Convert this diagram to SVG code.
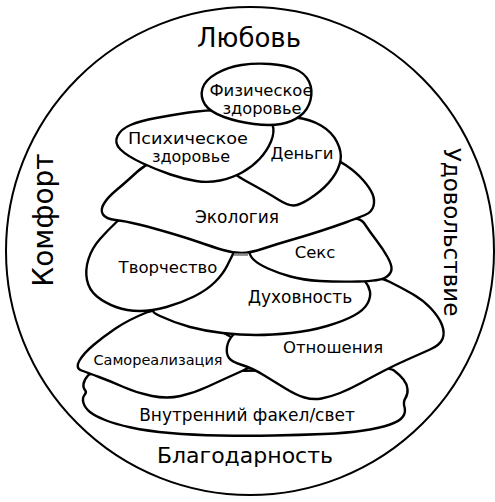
<svg xmlns="http://www.w3.org/2000/svg" width="495" height="502" viewBox="0 0 495 502">
<style>
.stone{fill:#fff;stroke:#000;stroke-width:2.4;stroke-linejoin:round}
.lbl{font-family:"DejaVu Sans","Liberation Sans",sans-serif;text-anchor:middle;fill:#000}
</style>
<rect width="495" height="502" fill="#fff"/>
<g id="frame">
<circle cx="250" cy="251" r="244" fill="#fff" stroke="#000" stroke-width="2"/>
<text class="lbl" x="249" y="47" font-size="26">Любовь</text>
<text class="lbl" x="245" y="463" font-size="22">Благодарность</text>
<text class="lbl" font-size="28" transform="translate(53,220) rotate(-90)">Комфорт</text>
<text class="lbl" font-size="23" transform="translate(444,232) rotate(90)">Удовольствие</text>
</g>
<g id="node-svet">
<path class="stone" d="M225,371 Q150,372 121,371.5 Q92,371 88,375.5 Q84,380 83.5,384 Q83,388 85,390 Q87,392 84.5,395 Q82,398 83.5,403 Q85,408 90,412 Q95,416 105,420 Q115,424 131,427.5 Q147,431 170,433 Q193,435 220,435.5 Q247,436 273.5,435.5 Q300,435 323.5,434 Q347,433 363.5,430.5 Q380,428 390,424.5 Q400,421 403,416.5 Q406,412 404.5,407 Q403,402 405.5,398 Q408,394 407.5,389 Q407,384 403.5,379.5 Q400,375 394,370.5 Q388,366 344,368 Q300,370 225,371 Z"/>
<text class="lbl" x="247" y="421" font-size="17">Внутренний факел/свет</text>
</g>
<g id="node-samorealizatsiya">
<path class="stone" d="M202.5,322.5 Q165,305 146.5,312.5 Q128,320 115.5,328.5 Q103,337 93.5,345 Q84,353 79.5,360.5 Q75,368 81.5,370.5 Q88,373 99,377 Q110,381 123.5,387 Q137,393 152,396 Q167,399 180.5,396 Q194,393 208,386.5 Q222,380 242,371 Q262,362 251,351 Q240,340 202.5,322.5 Z"/>
<text class="lbl" x="158" y="365" font-size="14.5">Самореализация</text>
</g>
<g id="node-otnosheniya">
<path class="stone" d="M327.5,290 Q300,300 270,314 Q240,328 234,334 Q228,340 227,347 Q226,354 229,358 Q232,362 242,365 Q252,368 263.5,375 Q275,382 285.5,388.5 Q296,395 304.5,397.5 Q313,400 321.5,398.5 Q330,397 340,393 Q350,389 361,383 Q372,377 383.5,371 Q395,365 407.5,359.5 Q420,354 430,349.5 Q440,345 442.5,339 Q445,333 442,325 Q439,317 431,308.5 Q423,300 412.5,294 Q402,288 390,282 Q378,276 366.5,278 Q355,280 327.5,290 Z"/>
<text class="lbl" x="333" y="353" font-size="16.5">Отношения</text>
</g>
<g id="node-dukhovnost">
<path class="stone" d="M187.5,292.5 Q175,300 160,304.5 Q145,309 160,316 Q175,323 190,327 Q205,331 222.5,333 Q240,335 256,335 Q272,335 291,333 Q310,331 327,326 Q344,321 354,315.5 Q364,310 367.5,303.5 Q371,297 370,291.5 Q369,286 364.5,280.5 Q360,275 330,265 Q300,255 270.5,247.5 Q241,240 220.5,262.5 Q200,285 187.5,292.5 Z"/>
<text class="lbl" x="300" y="303" font-size="17">Духовность</text>
</g>
<g id="node-tvorchestvo">
<path class="stone" d="M152.5,222 Q125,214 116.5,222 Q108,230 100,239 Q92,248 88.5,259 Q85,270 87,280 Q89,290 97,296.5 Q105,303 116,307 Q127,311 139.5,311 Q152,311 166.5,307 Q181,303 194,296.5 Q207,290 215,282 Q223,274 227,266 Q231,258 233.5,253 Q236,248 208,239 Q180,230 152.5,222 Z"/>
<text class="lbl" x="168" y="273" font-size="16.5">Творчество</text>
</g>
<g id="node-seks">
<path class="stone" d="M275,238 Q250,246 249.5,250.5 Q249,255 253.5,259.5 Q258,264 268,268.5 Q278,273 290.5,276.5 Q303,280 320,281 Q337,282 358.5,281.5 Q380,281 385.5,277.5 Q391,274 391.5,269.5 Q392,265 387.5,257 Q383,249 376.5,240.5 Q370,232 364,223 Q358,214 329,222 Q300,230 275,238 Z"/>
<text class="lbl" x="315" y="258" font-size="16.5">Секс</text>
</g>
<g id="node-ekologiya">
<path class="stone" d="M175,155 Q150,160 137.5,171.5 Q125,183 116.5,190 Q108,197 104,203.5 Q100,210 103,214.5 Q106,219 115.5,220 Q125,221 139,224.5 Q153,228 170,233 Q187,238 200,242.5 Q213,247 223,250 Q233,253 241.5,253 Q250,253 263.5,248.5 Q277,244 291,240 Q305,236 319,231.5 Q333,227 345.5,222.5 Q358,218 365,215 Q372,212 373.5,206 Q375,200 372.5,194 Q370,188 363,180 Q356,172 345.5,165 Q335,158 317.5,154 Q300,150 250,150 Q200,150 175,155 Z"/>
<rect x="234" y="253.3" width="14" height="2.6" fill="#8c8c8c"/>
<text class="lbl" x="237" y="223" font-size="17">Экология</text>
</g>
<g id="node-dengi">
<path class="stone" d="M245,132.5 Q255,125 267.5,120.5 Q280,116 295,117.5 Q310,119 321,125.5 Q332,132 337,142 Q342,152 340.5,160.5 Q339,169 332.5,178 Q326,187 315,195 Q304,203 297,205 Q290,207 279,200 Q268,193 245,180.5 Q222,168 228.5,154 Q235,140 245,132.5 Z"/>
<text class="lbl" x="302" y="159" font-size="16.5">Деньги</text>
</g>
<g id="node-psikhicheskoe">
<path class="stone" d="M120.5,149.5 Q114,143 117.5,136 Q121,129 130.5,125 Q140,121 156,118 Q172,115 188.5,112.5 Q205,110 225,110 Q245,110 257.5,113.5 Q270,117 272.5,124.5 Q275,132 271,141.5 Q267,151 259.5,159 Q252,167 242,172.5 Q232,178 220,180.5 Q208,183 196,181 Q184,179 170.5,174.5 Q157,170 142,163 Q127,156 120.5,149.5 Z"/>
<text class="lbl" x="188" y="144" font-size="15" textLength="120" lengthAdjust="spacingAndGlyphs">Психическое</text>
<text class="lbl" x="191" y="161.5" font-size="15" textLength="78" lengthAdjust="spacingAndGlyphs">здоровье</text>
</g>
<g id="node-fizicheskoe">
<path class="stone" d="M205,104.5 Q200,97 202.5,88.5 Q205,80 216.5,73.5 Q228,67 241.5,65 Q255,63 270,64 Q285,65 295,69 Q305,73 309,81.5 Q313,90 310.5,100 Q308,110 300,116 Q292,122 281,124 Q270,126 254,124 Q238,122 224,117 Q210,112 205,104.5 Z"/>
<text class="lbl" x="261" y="96" font-size="15" textLength="103" lengthAdjust="spacingAndGlyphs">Физическое</text>
<text class="lbl" x="262" y="113.5" font-size="15" textLength="79" lengthAdjust="spacingAndGlyphs">здоровье</text>
</g>
</svg>
